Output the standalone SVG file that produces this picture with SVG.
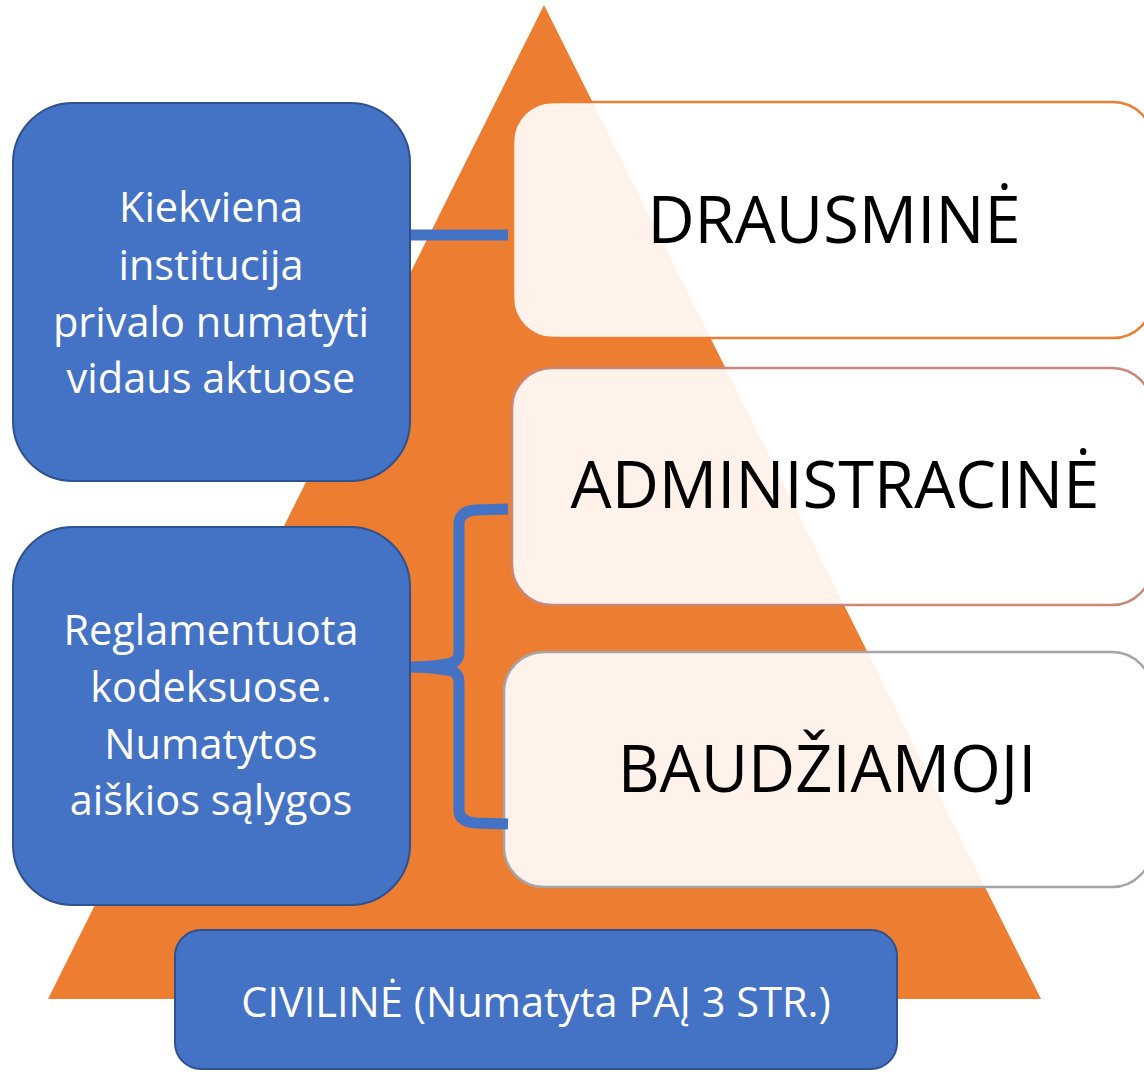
<svg xmlns="http://www.w3.org/2000/svg" width="1144" height="1072" viewBox="0 0 1144 1072">
<style>
.lvl{fill:#ffffff;fill-opacity:0.9;stroke-width:2.5}
.blue{fill:#4472C4;stroke:#2F528F;stroke-width:2}
.big{font-family:"Open Sans","Liberation Sans",sans-serif;font-size:65px;fill:#000;text-anchor:middle}
.wt{font-family:"Open Sans","Liberation Sans",sans-serif;font-size:41.5px;fill:#fff;text-anchor:middle}
.conn{fill:none;stroke:#4472C4;stroke-width:11}
</style>
<rect width="1144" height="1072" fill="#ffffff"/>
<polygon id="pyramid" points="544,5 1041,999 48,999" fill="#ED7D31"/>
<g id="drausmine">
<rect class="lvl" x="513" y="102" width="640" height="236" rx="40" stroke="#ED7D31"/>
<text class="big" x="834" y="243">DRAUSMINĖ</text>
</g>
<g id="administracine">
<rect class="lvl" x="512" y="368" width="640" height="237" rx="40" stroke="#C9877A"/>
<text class="big" x="835" y="508">ADMINISTRACINĖ</text>
</g>
<g id="baudziamoji">
<rect class="lvl" x="504" y="652" width="648" height="235" rx="40" stroke="#A5A5A5"/>
<text class="big" x="827" y="792">BAUDŽIAMOJI</text>
</g>
<g id="connectors">
<line class="conn" x1="410" y1="235" x2="508" y2="235" stroke-width="12"/>
<path class="conn" d="M508 509 L476 510 Q459 511 459 524 L459 652 Q459 663 447 664 Q430 667 410 667 M410 667 Q430 667 447 670 Q459 671 459 682 L459 810 Q459 822 476 823 L508 824"/>
</g>
<g id="kiekviena">
<rect class="blue" x="13" y="103" width="397" height="378" rx="60"/>
<text class="wt" x="211" y="222">Kiekviena</text>
<text class="wt" x="211" y="280">institucija</text>
<text class="wt" x="211" y="337">privalo numatyti</text>
<text class="wt" x="211" y="393">vidaus aktuose</text>
</g>
<g id="reglamentuota">
<rect class="blue" x="13" y="527" width="397" height="378" rx="60"/>
<text class="wt" x="211" y="645">Reglamentuota</text>
<text class="wt" x="211" y="702">kodeksuose.</text>
<text class="wt" x="211" y="759">Numatytos</text>
<text class="wt" x="211" y="815">aiškios sąlygos</text>
</g>
<g id="civiline">
<rect class="blue" x="175" y="930" width="722" height="139" rx="26"/>
<text class="wt" x="536" y="1017" font-size="42">CIVILINĖ (Numatyta PAĮ 3 STR.)</text>
</g>
</svg>
